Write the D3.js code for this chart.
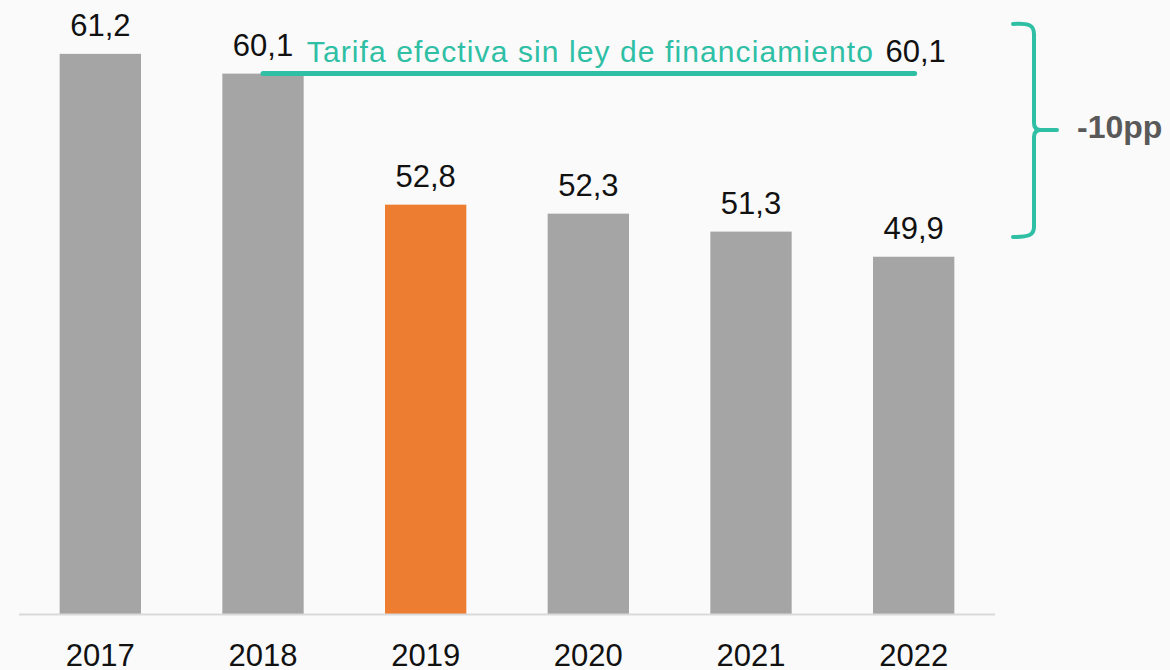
<!DOCTYPE html>
<html>
<head>
<meta charset="utf-8">
<script src="https://cdn.jsdelivr.net/npm/d3@7"></script>
<style>
  html, body { margin: 0; padding: 0; background: #fafafa; }
  svg { display: block; }
  text { font-family: "Liberation Sans", Arial, sans-serif; }
</style>
</head>
<body>
<svg id="chart" width="1170" height="670"></svg>
<script>
const categories = ["2017", "2018", "2019", "2020", "2021", "2022"];
const values = [61.2, 60.1, 52.8, 52.3, 51.3, 49.9];
const highlight = ["2019"];
const refValue = 60.1;
const refLabel = "Tarifa efectiva sin ley de financiamiento";
const refFrom = "2018", refTo = "2022", refTextAt = "2020";
const changeLabel = "-10pp";

const fmt = v => v.toFixed(1).replace(".", ",");

const svg = d3.select("#chart");
const W = 1170, H = 670;
svg.append("rect").attr("width", W).attr("height", H).attr("fill", "#fafafa");

const x = d3.scaleBand().domain(categories).range([19, 995]).paddingInner(0.5).paddingOuter(0.25);
const y = d3.scaleLinear().domain([30, 64.2]).range([614, 0]);

const data = categories.map((c, i) => ({ c, v: values[i] }));

// bars
svg.append("g").selectAll("rect").data(data).join("rect")
  .attr("x", d => x(d.c))
  .attr("y", d => y(d.v))
  .attr("width", x.bandwidth())
  .attr("height", d => y(30) - y(d.v))
  .attr("fill", d => highlight.includes(d.c) ? "#ed7d31" : "#a5a5a5");

// axis line
svg.append("line")
  .attr("x1", x.range()[0]).attr("x2", x.range()[1])
  .attr("y1", y(30) + 0.5).attr("y2", y(30) + 0.5)
  .attr("stroke", "#d9d9d9").attr("stroke-width", 2);

// x axis labels
const xAxis = d3.axisBottom(x).tickSize(0).tickPadding(0);
const gx = svg.append("g").attr("transform", `translate(0,${y(30)})`).call(xAxis);
gx.select(".domain").remove();
gx.selectAll("text")
  .attr("dy", null).attr("y", 52)
  .style("font-family", "'Liberation Sans', Arial, sans-serif")
  .style("font-size", "31px").attr("fill", "#111");

// value labels
svg.append("g").selectAll("text").data(data).join("text")
  .attr("x", d => x(d.c) + x.bandwidth() / 2)
  .attr("y", d => y(d.v) - 18)
  .attr("text-anchor", "middle")
  .attr("font-size", 31).attr("fill", "#111")
  .text(d => fmt(d.v));

// reference line
const green = "#2ebfa5";
const cx = c => x(c) + x.bandwidth() / 2;
svg.append("line")
  .attr("x1", cx(refFrom)).attr("x2", cx(refTo) + 1)
  .attr("y1", y(refValue)).attr("y2", y(refValue))
  .attr("stroke", green).attr("stroke-width", 5).attr("stroke-linecap", "round");

svg.append("text")
  .attr("x", cx(refTextAt) + 1.5).attr("y", y(refValue) - 12)
  .attr("text-anchor", "middle")
  .attr("font-size", 30).attr("fill", green)
  .attr("textLength", 566).attr("lengthAdjust", "spacing")
  .text(refLabel);

svg.append("text")
  .attr("x", cx(refTo) + 2).attr("y", y(refValue) - 12)
  .attr("text-anchor", "middle")
  .attr("font-size", 31).attr("fill", "#111")
  .text(fmt(refValue));

// bracket
svg.append("path")
  .attr("d", "M1013,24 C1029,23 1034,25 1034,34 L1034,123 Q1034,130 1041,130 L1057,130 M1041,130 Q1034,130 1034,137 L1034,227 C1034,235 1029,237 1013,237")
  .attr("fill", "none").attr("stroke", green).attr("stroke-width", 4)
  .attr("stroke-linecap", "round").attr("stroke-linejoin", "round");

svg.append("text")
  .attr("x", 1077).attr("y", 138)
  .attr("font-size", 32).attr("font-weight", "bold").attr("fill", "#595959")
  .text(changeLabel);
</script>
</body>
</html>
